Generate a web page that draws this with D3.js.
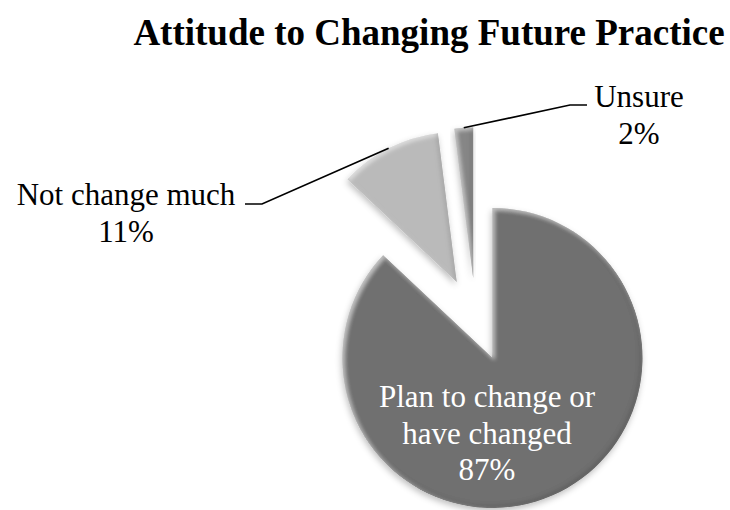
<!DOCTYPE html>
<html><head><meta charset="utf-8">
<script src="https://cdn.jsdelivr.net/npm/d3@7"></script>
<style>
html,body{margin:0;padding:0;background:#fff;}
svg{display:block;}
text{font-family:"Times New Roman","Liberation Serif",serif;}
</style></head>
<body>
<svg id="chart" width="730" height="510"></svg>
<script>
// ---- data ----
const categories = ["Plan to change or have changed", "Not change much", "Unsure"];
const labelLines = [["Plan to change or", "have changed"], ["Not change much"], ["Unsure"]];
const values = [87, 11, 2];
const percentLabels = ["87%", "11%", "2%"];
const title = "Attitude to Changing Future Practice";

// ---- layout ----
const W = 730, H = 510;
const cx = 475.8, cy = 319.4, R = 150, explode = 42;
const colors = ["#707070", "#bababa", "#868686"];

const svg = d3.select("#chart");
const defs = svg.append("defs");
const f = defs.append("filter").attr("id", "bevel")
  .attr("x", "-20%").attr("y", "-20%").attr("width", "140%").attr("height", "140%");
f.append("feGaussianBlur").attr("in", "SourceAlpha").attr("stdDeviation", 2.2).attr("result", "b");
f.append("feOffset").attr("in", "b").attr("dx", 2.2).attr("dy", 2.2).attr("result", "bo1");
f.append("feComposite").attr("in", "SourceAlpha").attr("in2", "bo1").attr("operator", "arithmetic")
  .attr("k1", 0).attr("k2", 1).attr("k3", -1).attr("k4", 0).attr("result", "eTL");
f.append("feFlood").attr("flood-color", "#ffffff").attr("flood-opacity", 0.5).attr("result", "white");
f.append("feComposite").attr("in", "white").attr("in2", "eTL").attr("operator", "in").attr("result", "hi");
f.append("feOffset").attr("in", "b").attr("dx", -2.2).attr("dy", -2.2).attr("result", "bo2");
f.append("feComposite").attr("in", "SourceAlpha").attr("in2", "bo2").attr("operator", "arithmetic")
  .attr("k1", 0).attr("k2", 1).attr("k3", -1).attr("k4", 0).attr("result", "eBR");
f.append("feFlood").attr("flood-color", "#000000").attr("flood-opacity", 0.3).attr("result", "black");
f.append("feComposite").attr("in", "black").attr("in2", "eBR").attr("operator", "in").attr("result", "lo");
f.append("feGaussianBlur").attr("in", "SourceAlpha").attr("stdDeviation", 3).attr("result", "sb");
f.append("feOffset").attr("in", "sb").attr("dx", -1).attr("dy", 3).attr("result", "sbo");
f.append("feFlood").attr("flood-color", "#000").attr("flood-opacity", 0.25).attr("result", "sc");
f.append("feComposite").attr("in", "sc").attr("in2", "sbo").attr("operator", "in").attr("result", "shadow");
const m = f.append("feMerge");
m.append("feMergeNode").attr("in", "shadow");
m.append("feMergeNode").attr("in", "SourceGraphic");
m.append("feMergeNode").attr("in", "hi");
m.append("feMergeNode").attr("in", "lo");

const pie = d3.pie().sort(null).value(d => d).startAngle(0).endAngle(2 * Math.PI);
const arcs = pie(values);
const arc = d3.arc().innerRadius(0).outerRadius(R);

const dir = a => [Math.sin(a), -Math.cos(a)];
const mid = d => (d.startAngle + d.endAngle) / 2;

const g = svg.append("g").attr("transform", `translate(${cx},${cy})`);
g.selectAll("path.slice").data(arcs).enter().append("path")
  .attr("class", "slice")
  .attr("d", arc)
  .attr("fill", (d, i) => colors[i])
  .attr("filter", "url(#bevel)")
  .attr("transform", d => { const [x, y] = dir(mid(d)); return `translate(${x * explode},${y * explode})`; });

// leader lines for outside labels
const leaderLayout = [null,
  { bend: [262 - cx, 204 - cy], end: [245 - cx, 204 - cy] },
  { bend: [570 - cx, 105 - cy], end: [587 - cx, 105 - cy] }];
arcs.forEach((d, i) => {
  const L = leaderLayout[i];
  if (!L) return;
  const [x, y] = dir(mid(d));
  const p0 = [x * (explode + R), y * (explode + R)];
  g.append("path")
    .attr("d", d3.line()([p0, L.bend, L.end]))
    .attr("fill", "none").attr("stroke", "#000").attr("stroke-width", 1.7);
});

// labels
const fs = 31;
const labelLayout = [
  { x: 487, y: 407, color: "#fff" },
  { x: 126, y: 205, color: "#000" },
  { x: 639, y: 107, color: "#000" }];
arcs.forEach((d, i) => {
  const lay = labelLayout[i];
  const lines = labelLines[i].concat([percentLabels[i]]);
  const t = svg.append("text")
    .attr("text-anchor", "middle")
    .attr("font-size", fs)
    .attr("fill", lay.color);
  lines.forEach((ln, k) => {
    t.append("tspan").attr("x", lay.x).attr("y", lay.y + k * 36.5).text(ln);
  });
});

// title
svg.append("text")
  .attr("x", 429).attr("y", 45)
  .attr("text-anchor", "middle")
  .attr("font-size", 37)
  .attr("font-weight", "bold")
  .attr("fill", "#000")
  .text(title);
</script>
</body></html>
